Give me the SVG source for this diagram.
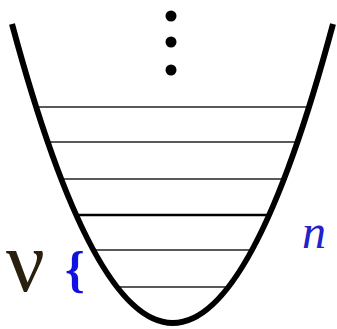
<svg xmlns="http://www.w3.org/2000/svg" width="337" height="329" viewBox="0 0 337 329">
<style>
.lvl{stroke:#222;stroke-width:1.5;fill:none}
.dot{fill:#000}
</style>
<rect width="337" height="329" fill="#fff"/>
<g id="levels">
<line class="lvl" x1="36" y1="107" x2="309" y2="107"/>
<line class="lvl" x1="47" y1="142" x2="298" y2="142"/>
<line class="lvl" x1="61" y1="179" x2="287" y2="179"/>
<line class="lvl" x1="76" y1="215" x2="271" y2="215" style="stroke-width:2.5;stroke:#000"/>
<line class="lvl" x1="94" y1="250" x2="252" y2="250"/>
<line class="lvl" x1="118" y1="287" x2="228" y2="287"/>
</g>
<g id="well">
<path d="M12,24 Q173,622 333,24" fill="none" stroke="#000" stroke-width="6"/>
</g>
<g id="dots">
<circle class="dot" cx="171" cy="16" r="5.5"/>
<circle class="dot" cx="171" cy="42" r="5.5"/>
<circle class="dot" cx="171" cy="70" r="5.5"/>
</g>
<g id="labels">
<text x="6" y="291" font-family="Liberation Serif, serif" font-size="86" fill="#2a2010">ν</text>
<text x="65" y="286" font-family="Liberation Serif, serif" font-size="50" font-weight="bold" fill="#1010e0">{</text>
<text x="302" y="248" font-family="Liberation Serif, serif" font-size="48" font-style="italic" fill="#2222cc">n</text>
</g>
</svg>
